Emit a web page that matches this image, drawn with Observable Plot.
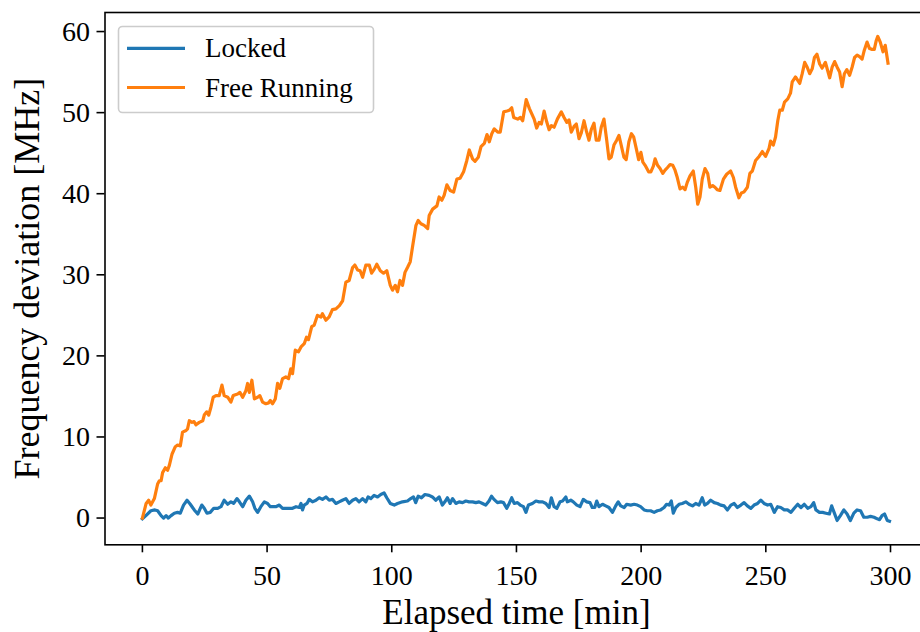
<!DOCTYPE html>
<html>
<head>
<meta charset="utf-8">
<script src="https://cdn.jsdelivr.net/npm/d3@7"></script>
<script src="https://cdn.jsdelivr.net/npm/@observablehq/plot@0.6"></script>
<style>
  html, body { margin: 0; padding: 0; background: #fff; overflow: hidden; }
</style>
</head>
<body>
<div id="chart"></div>
<script>
// Laser frequency deviation over a five-hour run, with and without the lock engaged.
const seriesNames = ["Locked", "Free Running"];
const seriesColors = ["#1f77b4", "#ff7f0e"];
const xTicks = [0, 50, 100, 150, 200, 250, 300];
const yTicks = [0, 10, 20, 30, 40, 50, 60];

// Locked: elapsed time [min] and deviation [MHz]
const lockedTime = [0, 1.4, 3.4, 5.0, 6.1, 7.5, 8.5, 9.5, 10.4, 11.5, 12.8, 14.1, 15.2, 16.5, 17.9, 19.2, 20.8, 22.2, 23.8, 24.8, 25.9, 27.2, 28.6, 30.2, 31.5, 32.8, 34.2, 35.5, 36.6, 37.9, 38.9, 40.2, 41.5, 42.9, 44.2, 45.1, 46.2, 47.5, 48.9, 50.2, 51.3, 52.2, 53.5, 54.9, 56.2, 58.2, 60.2, 61.6, 62.9, 63.6, 64.2, 64.9, 66.0, 66.9, 68.2, 69.6, 70.9, 72.2, 73.6, 74.9, 76.2, 77.6, 78.9, 80.2, 81.6, 82.9, 84.3, 85.6, 86.9, 88.3, 89.6, 90.5, 91.6, 92.9, 94.3, 95.6, 96.9, 98.0, 99.4, 101.0, 102.3, 104.3, 106.3, 107.6, 108.7, 109.6, 110.6, 111.9, 113.3, 115.0, 116.3, 117.6, 119.0, 120.3, 121.3, 122.3, 123.4, 124.4, 125.7, 127.0, 128.4, 129.7, 131.0, 132.4, 133.7, 135.0, 136.4, 137.7, 139.0, 140.0, 141.0, 142.4, 143.7, 144.8, 146.1, 147.1, 148.1, 149.1, 150.4, 151.5, 152.8, 153.8, 154.8, 156.4, 157.8, 159.1, 160.5, 161.8, 163.1, 164.0, 165.1, 166.2, 167.5, 168.5, 169.8, 170.4, 171.8, 172.8, 174.2, 175.5, 176.8, 178.2, 179.5, 180.4, 181.4, 182.2, 183.1, 184.5, 185.8, 187.1, 188.5, 189.8, 190.8, 191.8, 193.2, 194.2, 195.8, 197.2, 198.5, 199.8, 201.2, 202.5, 203.8, 205.2, 206.5, 207.8, 209.2, 210.2, 211.2, 212.1, 212.9, 213.9, 215.2, 216.5, 217.9, 219.2, 220.6, 221.9, 223.2, 224.5, 225.5, 226.6, 227.9, 229.3, 230.6, 231.9, 233.3, 234.6, 236.0, 237.3, 238.6, 240.0, 241.3, 242.6, 244.0, 245.3, 246.7, 248.0, 249.3, 250.7, 252.0, 253.4, 254.7, 256.0, 257.4, 258.7, 260.1, 261.4, 262.8, 264.1, 265.4, 266.8, 268.1, 269.2, 270.1, 271.5, 272.8, 274.1, 275.5, 276.4, 277.5, 278.6, 279.9, 281.3, 282.6, 283.9, 285.3, 286.6, 288.0, 289.3, 290.7, 292.0, 293.4, 294.7, 295.6, 296.6, 297.6, 298.7, 299.6];
const lockedDev = [-0.1, 0.3, 0.9, 1.0, 0.9, 0.3, 0.0, 0.3, 0.0, 0.3, 0.6, 0.7, 0.6, 1.6, 2.2, 1.7, 1.0, 0.5, 1.6, 1.2, 0.6, 0.7, 1.2, 1.2, 1.4, 2.2, 1.7, 2.0, 1.8, 2.4, 2.0, 1.4, 2.2, 2.7, 2.0, 1.2, 0.7, 1.4, 2.0, 1.8, 1.4, 1.4, 1.4, 1.6, 1.2, 1.2, 1.2, 1.4, 1.3, 1.8, 1.0, 1.6, 1.8, 2.3, 2.0, 2.2, 2.5, 2.3, 2.6, 2.2, 2.3, 1.8, 2.0, 2.2, 2.4, 1.8, 2.2, 2.4, 2.0, 2.4, 2.0, 2.6, 2.4, 2.8, 2.6, 2.9, 3.1, 2.5, 1.8, 1.6, 1.8, 2.0, 2.1, 2.4, 2.6, 1.9, 2.7, 2.5, 2.9, 2.8, 2.6, 2.2, 2.6, 1.6, 2.0, 2.5, 1.8, 2.4, 1.8, 2.0, 1.9, 2.1, 2.0, 2.0, 1.9, 2.0, 1.8, 1.6, 2.1, 2.7, 2.3, 1.9, 2.0, 1.9, 1.2, 1.8, 2.5, 1.8, 1.9, 1.6, 1.4, 0.7, 1.6, 1.8, 2.1, 2.0, 2.0, 1.8, 1.3, 2.5, 1.4, 1.2, 2.0, 2.1, 2.6, 2.0, 2.2, 2.0, 1.6, 1.4, 2.3, 2.0, 1.9, 1.3, 1.3, 2.1, 1.4, 1.7, 1.5, 1.3, 0.7, 1.5, 2.0, 1.5, 1.3, 1.7, 1.6, 1.7, 1.6, 1.4, 1.0, 0.9, 0.9, 0.7, 0.9, 1.0, 1.3, 1.7, 1.6, 2.1, 0.6, 1.3, 1.7, 1.8, 2.0, 1.7, 1.5, 1.8, 1.6, 2.5, 1.6, 1.8, 2.2, 1.9, 1.8, 1.6, 1.5, 1.0, 1.6, 1.8, 1.3, 1.6, 1.9, 1.5, 1.2, 1.6, 1.8, 2.2, 1.8, 1.6, 1.7, 0.7, 1.4, 1.3, 1.0, 1.0, 0.7, 1.2, 1.7, 1.3, 1.7, 1.2, 1.4, 1.9, 1.0, 0.7, 0.7, 0.6, 0.5, 1.5, 0.6, -0.3, 0.3, 1.0, 0.5, -0.3, 0.6, 1.0, 0.9, 0.1, 0.1, 0.2, 0.1, -0.1, -0.2, 0.3, 0.5, -0.3, -0.4];

// Free running: elapsed time [min] and deviation [MHz]
const freeTime = [0, 1.5, 2.5, 3.4, 4.8, 6.1, 6.8, 7.5, 8.1, 9.2, 10.1, 10.8, 11.9, 13.2, 14.1, 15.2, 16.1, 17.5, 18.1, 18.8, 19.9, 20.7, 21.5, 22.8, 24.2, 24.8, 25.8, 26.6, 27.5, 28.4, 29.5, 30.8, 31.9, 32.8, 34.2, 35.5, 36.4, 38.2, 39.1, 40.2, 41.5, 42.2, 42.9, 43.9, 44.9, 46.2, 47.1, 48.2, 49.5, 50.6, 51.3, 52.2, 53.3, 54.2, 55.1, 56.2, 57.5, 58.6, 59.5, 60.2, 61.3, 62.6, 63.6, 64.9, 65.8, 66.6, 67.9, 68.9, 70.2, 71.6, 72.2, 73.6, 74.9, 76.2, 77.6, 79.0, 80.3, 81.6, 82.9, 84.3, 85.2, 86.3, 87.3, 88.3, 89.6, 91.0, 91.9, 93.0, 94.0, 95.4, 96.7, 98.0, 99.4, 100.3, 101.4, 102.3, 103.3, 104.3, 105.3, 106.3, 107.4, 108.3, 109.7, 110.6, 111.7, 113.0, 114.4, 115.0, 116.4, 118.1, 119.0, 120.1, 121.0, 122.1, 123.4, 124.8, 126.1, 127.4, 128.8, 130.1, 131.1, 132.4, 133.4, 134.7, 135.8, 137.1, 138.2, 139.1, 140.1, 141.1, 142.5, 143.5, 144.9, 146.2, 147.2, 148.1, 148.9, 150.5, 151.6, 152.5, 153.9, 155.2, 157.1, 158.1, 159.1, 160.0, 161.1, 162.1, 163.1, 164.0, 165.1, 166.4, 168.0, 169.1, 170.2, 171.1, 172.0, 173.1, 174.0, 175.1, 176.0, 177.1, 178.0, 179.1, 180.0, 181.1, 182.0, 183.1, 184.0, 185.1, 186.2, 187.1, 188.0, 189.1, 190.2, 191.1, 192.0, 193.1, 194.0, 195.1, 196.1, 197.0, 198.1, 199.0, 199.9, 200.7, 201.6, 203.0, 203.9, 204.9, 205.6, 206.6, 207.6, 208.7, 209.6, 210.5, 211.6, 212.7, 213.6, 214.5, 215.6, 216.7, 217.6, 218.5, 219.6, 220.9, 221.9, 222.7, 223.6, 224.5, 225.6, 226.7, 227.6, 228.7, 229.6, 230.5, 231.6, 233.0, 234.3, 235.9, 237.0, 237.9, 239.2, 240.2, 241.2, 242.6, 243.6, 244.6, 245.9, 247.3, 248.6, 249.9, 251.3, 251.9, 253.0, 253.9, 254.8, 255.6, 256.6, 257.5, 258.8, 259.9, 260.6, 261.9, 263.6, 264.6, 265.6, 266.6, 267.6, 268.6, 269.5, 270.5, 271.6, 272.6, 273.9, 274.8, 275.6, 276.6, 277.6, 278.6, 279.6, 280.6, 281.5, 282.5, 283.6, 284.6, 285.6, 286.6, 287.6, 288.6, 289.5, 290.6, 291.6, 292.6, 293.5, 294.3, 294.9, 295.9, 297.0, 297.9, 299.0];
const freeDev = [0, 1.8, 2.2, 1.6, 2.4, 4.2, 4.6, 4.6, 5.6, 6.2, 5.9, 6.5, 7.9, 8.8, 9.0, 8.9, 10.6, 10.8, 11.0, 12.0, 11.8, 11.9, 11.5, 11.8, 12.0, 12.7, 13.1, 12.7, 13.7, 14.9, 15.1, 15.1, 16.4, 15.1, 14.9, 14.3, 15.1, 15.3, 15.5, 14.9, 15.7, 16.6, 15.5, 17.0, 14.7, 14.9, 15.1, 14.3, 14.1, 14.2, 14.5, 14.1, 14.7, 16.6, 16.0, 17.2, 17.4, 17.2, 18.4, 17.8, 20.7, 20.5, 21.1, 21.5, 22.3, 22.0, 23.6, 23.8, 25.0, 24.8, 25.2, 24.4, 24.8, 25.7, 25.8, 26.2, 26.8, 29.1, 29.3, 30.9, 31.2, 30.6, 30.5, 29.7, 31.2, 31.2, 30.2, 30.7, 31.3, 30.5, 30.2, 30.5, 28.7, 28.1, 28.7, 27.9, 29.3, 28.7, 30.3, 30.9, 31.6, 33.4, 36.1, 36.7, 36.3, 36.1, 35.7, 37.3, 38.1, 38.5, 39.6, 39.2, 39.8, 41.1, 40.4, 40.2, 41.8, 41.9, 42.7, 44.1, 45.4, 44.3, 44.0, 44.5, 45.8, 46.2, 47.3, 46.4, 47.4, 48.0, 47.6, 47.6, 50.1, 50.2, 50.3, 50.6, 49.4, 49.2, 49.4, 49.0, 51.6, 50.5, 49.2, 48.1, 48.8, 48.6, 50.2, 48.9, 47.9, 48.4, 48.2, 49.2, 50.1, 49.4, 48.8, 49.1, 47.6, 48.3, 48.6, 46.8, 47.5, 49.0, 47.8, 46.6, 47.9, 48.7, 46.6, 46.6, 48.2, 49.2, 46.6, 44.3, 44.5, 46.0, 46.6, 47.2, 46.0, 44.5, 44.2, 46.4, 47.4, 47.0, 45.5, 44.2, 45.1, 43.9, 43.5, 42.7, 42.7, 43.4, 44.3, 43.5, 43.1, 42.5, 42.9, 43.2, 43.6, 43.5, 42.9, 42.0, 40.6, 40.8, 40.5, 41.4, 42.2, 42.8, 40.8, 38.7, 39.6, 41.8, 43.1, 42.5, 40.8, 41.0, 40.8, 40.5, 40.4, 41.8, 42.4, 42.8, 42.0, 40.8, 39.5, 40.1, 40.2, 40.8, 42.5, 42.8, 44.1, 44.6, 45.2, 44.6, 45.6, 46.5, 46.0, 47.0, 49.0, 50.3, 50.3, 51.3, 51.7, 52.4, 53.8, 54.4, 53.6, 54.8, 56.2, 55.6, 54.8, 55.4, 56.8, 57.2, 56.0, 55.5, 56.2, 55.2, 54.3, 55.6, 56.3, 55.6, 55.0, 53.2, 54.8, 55.3, 54.6, 55.6, 56.8, 57.1, 56.9, 56.6, 57.7, 58.7, 57.9, 57.8, 57.8, 58.9, 59.4, 58.7, 57.5, 58.3, 56.1];

const rows = [
  ...lockedTime.map((t, i) => ({t, v: lockedDev[i], s: seriesNames[0]})),
  ...freeTime.map((t, i) => ({t, v: freeDev[i], s: seriesNames[1]}))
];

const font = "'Liberation Serif', 'DejaVu Serif', serif";

const chart = Plot.plot({
  width: 920,
  height: 632,
  marginLeft: 104.5,
  marginRight: -7.4,
  marginTop: 12,
  marginBottom: 87.7,
  style: {fontFamily: font, background: "#fff", color: "#000"},
  x: {domain: [-15, 315]},
  y: {domain: [-3.3, 62.35]},
  color: {domain: seriesNames, range: seriesColors},
  marks: [
    Plot.lineY(rows, {x: "t", y: "v", z: "s", stroke: "s", strokeWidth: 3.2, strokeLinejoin: "round", strokeLinecap: "square"}),
    Plot.frame({stroke: "#000", strokeWidth: 1.6}),
    Plot.axisX(xTicks, {tickSize: 8, strokeWidth: 1.6, tickPadding: 12, fontSize: 28, label: null}),
    Plot.axisY(yTicks, {tickSize: 8, strokeWidth: 1.6, tickPadding: 7, fontSize: 28, label: null}),
    Plot.text(["Elapsed time [min]"], {frameAnchor: "bottom", textAnchor: "middle", lineAnchor: "middle", dy: 68, fontSize: 35}),
    Plot.text(["Frequency deviation [MHz]"], {frameAnchor: "left", textAnchor: "middle", lineAnchor: "middle", rotate: -90, dx: -78, fontSize: 36})
  ]
});

// Legend box with line samples in the upper-left corner of the axes
const svg = d3.select(chart);
const legend = svg.append("g")
  .attr("font-family", font).attr("font-size", 27).attr("text-anchor", "start");
legend.append("rect")
  .attr("x", 118.5).attr("y", 26.5).attr("width", 255).attr("height", 86)
  .attr("rx", 4).attr("fill", "#fff").attr("fill-opacity", 0.8)
  .attr("stroke", "#cccccc").attr("stroke-width", 1.6);
const rowY = [48.3, 87.5];
seriesNames.forEach((name, i) => {
  legend.append("line")
    .attr("x1", 127).attr("x2", 185).attr("y1", rowY[i]).attr("y2", rowY[i])
    .attr("stroke", seriesColors[i]).attr("stroke-width", 3.2);
  legend.append("text")
    .attr("x", 205).attr("y", rowY[i] + 9)
    .attr("fill", "#000").text(name);
});

document.getElementById("chart").appendChild(chart);
</script>
</body>
</html>
